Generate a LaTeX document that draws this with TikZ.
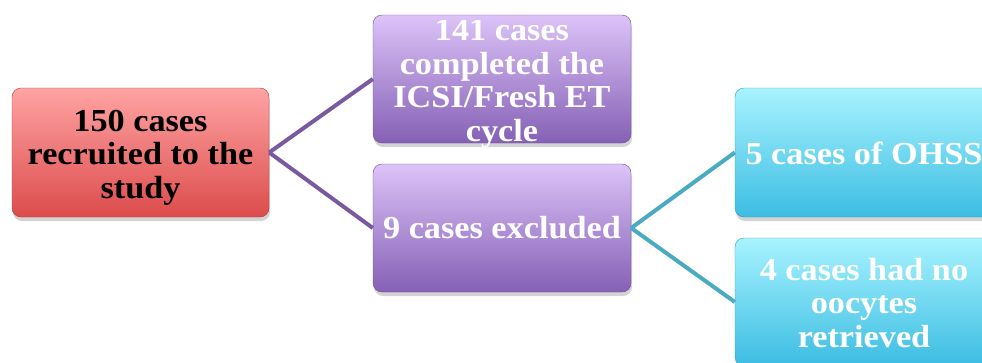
\documentclass[tikz,border=0pt]{standalone}
\usepackage{fontspec}
\setmainfont{Liberation Serif}[FakeStretch=1.07]
\usetikzlibrary{shadows}
\definecolor{redtop}{HTML}{FFA3A3}
\definecolor{redbot}{HTML}{DC4C4C}
\definecolor{purtop}{HTML}{DCC3F8}
\definecolor{purbot}{HTML}{8560B5}
\definecolor{cyatop}{HTML}{A8F3FF}
\definecolor{cyabot}{HTML}{3CBDE2}
\definecolor{purline}{HTML}{7A5A9E}
\definecolor{cyaline}{HTML}{4AAAC2}
\tikzset{
  box/.style={rectangle, rounded corners=9pt, minimum width=258pt, minimum height=128pt,
    align=center, inner sep=2pt,
    drop shadow={shadow xshift=1pt, shadow yshift=-4pt, opacity=0.35}},
  redbox/.style={box, top color=redtop, bottom color=redbot, draw=redbot!80!black},
  purbox/.style={box, top color=purtop, bottom color=purbot, draw=purbot!80!black},
  cyabox/.style={box, top color=cyatop, bottom color=cyabot, draw=cyabot!80!black},
  boxtext/.style={align=center, inner sep=0pt, font=\fontsize{32}{33.5}\selectfont\bfseries},
  purconn/.style={draw=purline, line width=4pt},
  cyaconn/.style={draw=cyaline, line width=4pt},
}
\begin{document}
\begin{tikzpicture}[x=1pt,y=-1pt]
\useasboundingbox (0,0) rectangle (982,362);
\clip (0,0) rectangle (982,362);
\node[redbox, minimum width=257pt, minimum height=129pt] (red) at (140.5,152.5) {};
\node[purbox] (ptop) at (502,79) {};
\node[purbox] (pbot) at (502,228) {};
\node[cyabox, minimum height=129pt] (ctop) at (864,152.5) {};
\node[cyabox] (cbot) at (864,302) {};
\draw[purconn] (red.east) -- (ptop.west);
\draw[purconn] (red.east) -- (pbot.west);
\draw[cyaconn] (pbot.east) -- (ctop.west);
\draw[cyaconn] (pbot.east) -- (cbot.west);
\node[boxtext, text=black] (tred) at ([yshift=-5pt]red.center) {150 cases\\recruited to the\\study};
\begin{scope}
\clip (360,20) rectangle (650,160);
\node[boxtext, text=white] (tptop) at ([yshift=-5pt]ptop.center) {141 cases\\completed the\\ICSI/Fresh ET\\cycle};
\end{scope}
\node[boxtext, text=white] (tpbot) at ([yshift=0pt]pbot.center) {9 cases excluded};
\node[boxtext, text=white] (tctop) at ([yshift=-1pt]ctop.center) {5 cases of OHSS};
\node[boxtext, text=white] (tcbot) at ([yshift=-1pt]cbot.center) {4 cases had no\\oocytes\\retrieved};
\end{tikzpicture}
\end{document}
